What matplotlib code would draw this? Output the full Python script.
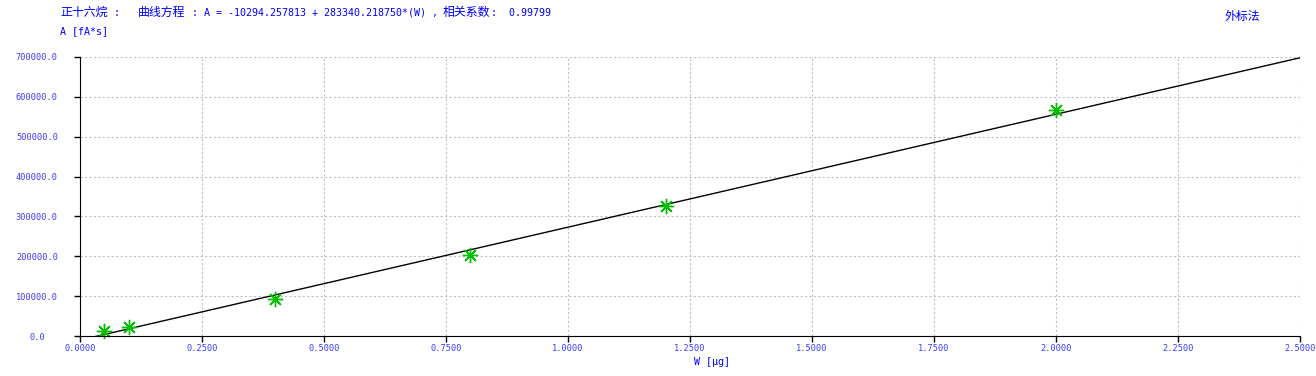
import numpy as np
import matplotlib
matplotlib.use("Agg")
import matplotlib.pyplot as plt

plt.rcParams['font.family'] = ['DejaVu Sans Mono', 'Noto Sans CJK SC']

# calibration points
amount = [0.05, 0.1, 0.4, 0.8, 1.2, 2.0]
area = [13300, 21800, 93600, 203000, 326000, 567000]

intercept = -10294.257813
slope = 283340.218750
r_coef = 0.99799

xticks = [0.0, 0.25, 0.5, 0.75, 1.0, 1.25, 1.5, 1.75, 2.0, 2.25, 2.5]
yticks = [0, 100000, 200000, 300000, 400000, 500000, 600000, 700000]

blue = '#0000ff'
tick_blue = '#3c3cff'

fig = plt.figure(figsize=(13.16, 3.76), dpi=100)
ax = fig.add_axes([80/1316, 40/376, 1220/1316, 279/376])

fit_x = np.array([0.0, 2.5])
ax.plot(fit_x, intercept + slope*fit_x, color='black', lw=1)
ax.plot(amount, area, ls='none', marker=(8, 2, 0), ms=11, mew=1,
        color='#00c000', clip_on=False)

ax.set_xlim(0, 2.5)
ax.set_ylim(0, 700000)
ax.set_xticks(xticks)
ax.set_xticklabels(['%.4f' % v for v in xticks])
ax.set_yticks(yticks)
ax.set_yticklabels(['%.1f' % v for v in yticks], ha='center')
ax.tick_params(labelsize=6.2, labelcolor=tick_blue, length=4, width=1, direction='out')
ax.tick_params(axis='x', pad=1.5)
ax.tick_params(axis='y', pad=27)
ax.grid(True, color='#c0c0c0', ls=(0, (2, 2)), lw=0.8)
for s in ['top', 'right']:
    ax.spines[s].set_visible(False)

# header line: chinese words a bit larger than the ascii parts
def put(x, y, s, cjk=False):
    if cjk:
        fig.text(x/1316, 1 - y/376, s, family='Noto Sans CJK SC', fontsize=8.6,
                 color=blue, va='center', ha='left')
    else:
        fig.text(x/1316, 1 - y/376, s, fontsize=7.2, color=blue, va='center', ha='left')

put(60, 12.5, '正十六烷', True)
put(108, 12.5, ' :')
put(138, 12.5, '曲线方程', True)
put(186, 12.5, ' : A = %.6f + %.6f*(W) ,' % (intercept, slope))
put(443, 12.5, '相关系数', True)
put(491, 12.5, ':  %.5f' % r_coef)
put(60, 31, 'A [fA*s]')
put(1225, 16, '外标法', True)
fig.text(712/1316, 1 - 362/376, 'W [μg]', fontsize=7.2, color=blue, va='center', ha='center')

fig.savefig('out.png', dpi=100)
